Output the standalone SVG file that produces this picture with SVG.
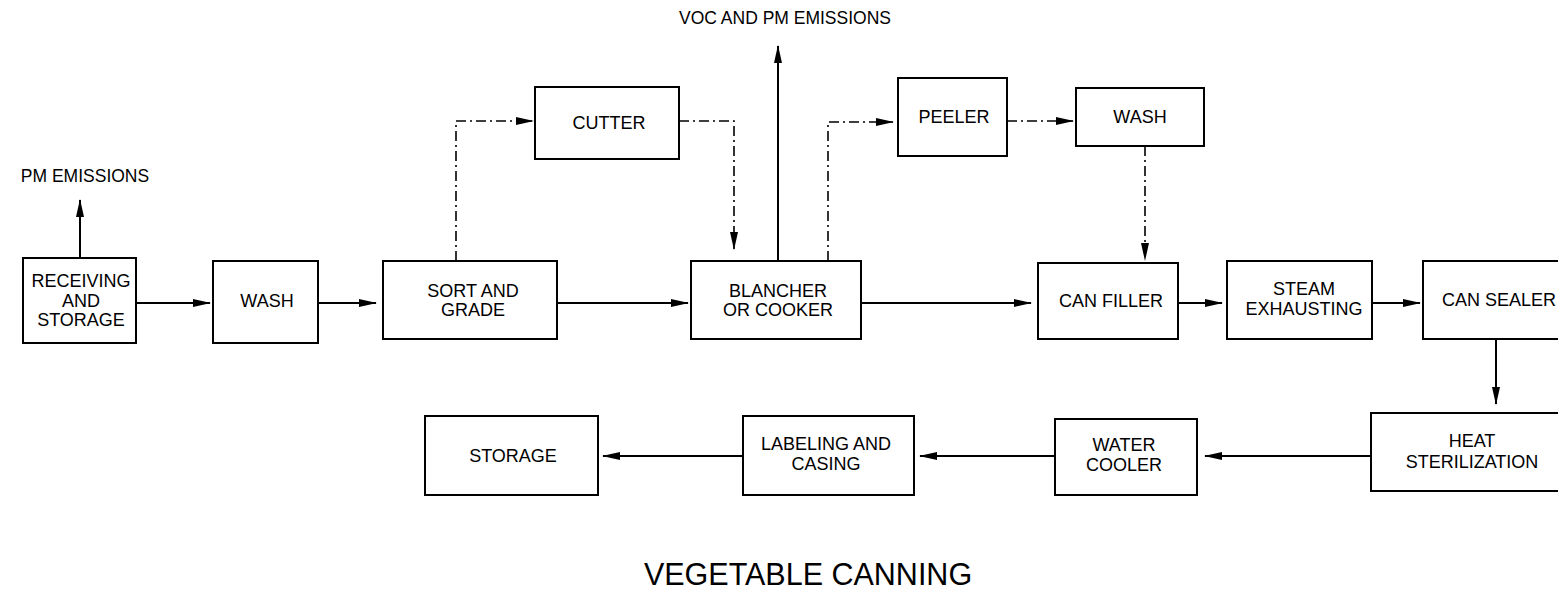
<svg xmlns="http://www.w3.org/2000/svg" width="1558" height="601" viewBox="0 0 1558 601">
<defs>
<style>
.box{fill:#fff;stroke:#000;stroke-width:2}
.t{font-family:"Liberation Sans",Arial,sans-serif;font-size:18px;fill:#000;text-anchor:middle}
.lbl{font-family:"Liberation Sans",Arial,sans-serif;font-size:17.5px;fill:#000;text-anchor:middle}
.title{font-family:"Liberation Sans",Arial,sans-serif;font-size:30.5px;fill:#000;text-anchor:middle}
.c{fill:none;stroke:#000;stroke-width:2}
.d{fill:none;stroke:#000;stroke-width:1.6;stroke-dasharray:10 4 2 4}
</style>
<marker id="ah" viewBox="0 0 18 8" refX="17" refY="4" markerWidth="18" markerHeight="8" markerUnits="userSpaceOnUse" orient="auto">
<path d="M0,0 L18,4 L0,8 z" fill="#000"/>
</marker>
</defs>
<rect width="1558" height="601" fill="#fff"/>

<g id="connectors">
<path class="c" d="M80,258 V200" marker-end="url(#ah)"/>
<path class="c" d="M136,303 H210" marker-end="url(#ah)"/>
<path class="c" d="M318,303 H376" marker-end="url(#ah)"/>
<path class="c" d="M557,303 H688" marker-end="url(#ah)"/>
<path class="c" d="M778,261 V46" marker-end="url(#ah)"/>
<path class="c" d="M861,303 H1031" marker-end="url(#ah)"/>
<path class="c" d="M1178,303 H1222" marker-end="url(#ah)"/>
<path class="c" d="M1372,303 H1420" marker-end="url(#ah)"/>
<path class="c" d="M1496,339 V404" marker-end="url(#ah)"/>
<path class="c" d="M1371,456 H1205" marker-end="url(#ah)"/>
<path class="c" d="M1055,456 H920" marker-end="url(#ah)"/>
<path class="c" d="M743,456 H603" marker-end="url(#ah)"/>
<path class="d" d="M456,261 V121 H533" marker-end="url(#ah)"/>
<path class="d" d="M679,121 H734 V249" marker-end="url(#ah)"/>
<path class="d" d="M828,261 V122 H893" marker-end="url(#ah)"/>
<path class="d" d="M1007,121 H1073" marker-end="url(#ah)"/>
<path class="d" d="M1145,146 V260" marker-end="url(#ah)"/>
</g>

<g id="pm-emissions"><text class="lbl" x="85" y="182">PM EMISSIONS</text></g>
<g id="voc-emissions"><text class="lbl" x="785" y="24">VOC AND PM EMISSIONS</text></g>

<g id="receiving">
<rect class="box" x="23" y="258" width="113" height="85"/>
<text class="t" x="81" y="287">RECEIVING</text>
<text class="t" x="81" y="307">AND</text>
<text class="t" x="81" y="326">STORAGE</text>
</g>
<g id="wash1">
<rect class="box" x="213" y="261" width="105" height="82"/>
<text class="t" x="267" y="307">WASH</text>
</g>
<g id="sort">
<rect class="box" x="383" y="261" width="174" height="78"/>
<text class="t" x="473" y="297">SORT AND</text>
<text class="t" x="473" y="316">GRADE</text>
</g>
<g id="cutter">
<rect class="box" x="535" y="87" width="144" height="72"/>
<text class="t" x="609" y="129">CUTTER</text>
</g>
<g id="blancher">
<rect class="box" x="691" y="261" width="170" height="78"/>
<text class="t" x="778" y="297">BLANCHER</text>
<text class="t" x="778" y="316">OR COOKER</text>
</g>
<g id="peeler">
<rect class="box" x="898" y="78" width="109" height="78"/>
<text class="t" x="954" y="123">PEELER</text>
</g>
<g id="wash2">
<rect class="box" x="1076" y="88" width="128" height="58"/>
<text class="t" x="1140" y="123">WASH</text>
</g>
<g id="can-filler">
<rect class="box" x="1038" y="263" width="140" height="76"/>
<text class="t" x="1111" y="307">CAN FILLER</text>
</g>
<g id="steam">
<rect class="box" x="1227" y="261" width="145" height="78"/>
<text class="t" x="1304" y="295">STEAM</text>
<text class="t" x="1304" y="315">EXHAUSTING</text>
</g>
<g id="can-sealer">
<rect class="box" x="1423" y="261" width="150" height="78"/>
<text class="t" x="1499" y="306">CAN SEALER</text>
</g>
<g id="heat">
<rect class="box" x="1371" y="413" width="202" height="78"/>
<text class="t" x="1472" y="447">HEAT</text>
<text class="t" x="1472" y="468">STERILIZATION</text>
</g>
<g id="water-cooler">
<rect class="box" x="1055" y="419" width="142" height="76"/>
<text class="t" x="1124" y="451">WATER</text>
<text class="t" x="1124" y="471">COOLER</text>
</g>
<g id="labeling">
<rect class="box" x="743" y="416" width="171" height="79"/>
<text class="t" x="826" y="450">LABELING AND</text>
<text class="t" x="826" y="470">CASING</text>
</g>
<g id="storage">
<rect class="box" x="425" y="416" width="173" height="79"/>
<text class="t" x="513" y="462">STORAGE</text>
</g>

<text class="title" x="808" y="585">VEGETABLE CANNING</text>
</svg>
